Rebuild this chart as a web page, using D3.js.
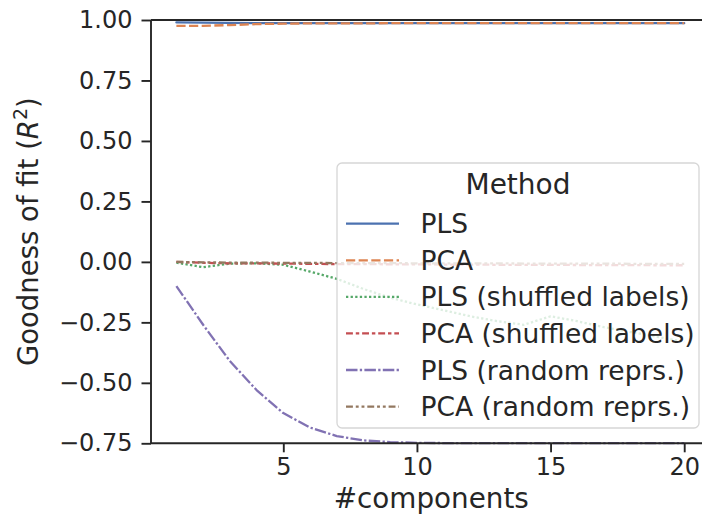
<!DOCTYPE html>
<html>
<head>
<meta charset="utf-8">
<script src="https://cdn.jsdelivr.net/npm/d3@7"></script>
<style>
  html, body { margin: 0; padding: 0; background: #fff; }
  svg { display: block; }
  text { font-family: "DejaVu Sans", sans-serif; fill: #262626; }
</style>
</head>
<body>
<svg id="chart" width="702" height="516"></svg>
<script>
// ---- data ----
const components = [1,2,3,4,5,6,7,8,9,10,11,12,13,14,15,16,17,18,19,20];
const methods = ["PLS", "PCA", "PLS (shuffled labels)", "PCA (shuffled labels)", "PLS (random reprs.)", "PCA (random reprs.)"];
const plsValues = [0.990,0.989,0.988,0.987,0.987,0.987,0.987,0.987,0.987,0.987,0.987,0.987,0.987,0.987,0.987,0.987,0.987,0.987,0.987,0.987];
const pcaValues = [0.976,0.976,0.979,0.983,0.985,0.986,0.986,0.986,0.987,0.987,0.987,0.987,0.987,0.987,0.987,0.987,0.987,0.987,0.987,0.987];
const plsShuffledValues = [-0.003,-0.022,-0.007,-0.006,-0.012,-0.04,-0.07,-0.112,-0.148,-0.176,-0.2,-0.225,-0.245,-0.26,-0.225,-0.245,-0.27,-0.29,-0.31,-0.33];
const pcaShuffledValues = [0.0,-0.004,-0.006,-0.006,-0.007,-0.008,-0.009,-0.009,-0.01,-0.01,-0.011,-0.011,-0.012,-0.012,-0.012,-0.013,-0.013,-0.013,-0.014,-0.014];
const plsRandomValues = [-0.10,-0.26,-0.41,-0.53,-0.625,-0.685,-0.72,-0.738,-0.745,-0.748,-0.749,-0.749,-0.749,-0.749,-0.749,-0.749,-0.749,-0.749,-0.749,-0.749];
const pcaRandomValues = [0.0,-0.002,-0.003,-0.003,-0.004,-0.004,-0.005,-0.005,-0.005,-0.006,-0.006,-0.006,-0.006,-0.007,-0.007,-0.007,-0.007,-0.008,-0.008,-0.008];
const xTicks = [5, 10, 15, 20];
const yTicks = [1.00, 0.75, 0.50, 0.25, 0.00, -0.25, -0.50, -0.75];

const seriesValues = [plsValues, pcaValues, plsShuffledValues, pcaShuffledValues, plsRandomValues, pcaRandomValues];
const colors = ["#4C72B0", "#DD8452", "#55A868", "#C44E52", "#8172B3", "#937860"];
const lw = 2.3;
const dashUnits = [null, [4,1.5], [1,1], [3,1.25,1.5,1.25], [5,1,1,1], [3,1.25,1.25,1.25,1.25,1.25]];
const dashArr = dashUnits.map(d => d ? d.map(v => (v*lw).toFixed(2)).join(",") : null);

const svg = d3.select("#chart");
svg.append("rect").attr("width", 702).attr("height", 516).attr("fill", "#fff");

const x = d3.scaleLinear().domain([0.05, 20.95]).range([151, 709.6]);
const y = d3.scaleLinear().domain([-0.75, 1.0]).range([443.3, 20]);

const axisColor = "#262626";
const spineW = 1.9;

// lines
const line = d3.line().x(d => x(d[0])).y(d => y(d[1])).curve(d3.curveLinear);
const gLines = svg.append("g");
seriesValues.forEach((vals, i) => {
  gLines.append("path")
    .datum(components.map((c, j) => [c, vals[j]]))
    .attr("d", line)
    .attr("fill", "none")
    .attr("stroke", colors[i])
    .attr("stroke-width", lw)
    .attr("stroke-linejoin", "round")
    .attr("stroke-linecap", dashArr[i] ? "butt" : "round")
    .attr("stroke-dasharray", dashArr[i]);
});

// axes
const xAxis = d3.axisBottom(x).tickValues(xTicks).tickSize(9).tickPadding(6).tickFormat(d3.format("d"));
const yAxis = d3.axisLeft(y).tickValues(yTicks).tickSize(9.5).tickPadding(9).tickFormat(d3.format(".2f"));

const gx = svg.append("g").attr("transform", `translate(0,${y(-0.75)})`).call(xAxis);
const gy = svg.append("g").attr("transform", `translate(${x(0.05)},0)`).call(yAxis);
[gx, gy].forEach(g => {
  g.select(".domain").attr("stroke", axisColor).attr("stroke-width", spineW);
  g.selectAll(".tick line").attr("stroke", axisColor).attr("stroke-width", spineW);
  g.selectAll(".tick text").attr("fill", axisColor).style("font-size", "24px").style("font-family", "DejaVu Sans");
});
gx.select(".domain").attr("d", `M${x(0.05)},0H${x(20.95)}`);
gy.select(".domain").attr("d", `M0,${y(-0.75)}V${y(1.0)}`);
// top spine
svg.append("line")
  .attr("x1", x(0.05)).attr("x2", x(20.95))
  .attr("y1", y(1.0)).attr("y2", y(1.0))
  .attr("stroke", axisColor).attr("stroke-width", spineW);

// axis labels
svg.append("text")
  .attr("x", (x(0.05) + x(20.95)) / 2 + 1)
  .attr("y", 508)
  .attr("text-anchor", "middle")
  .style("font-size", "27.8px")
  .text("#components");

const yl = svg.append("text")
  .attr("transform", `translate(38,${(y(1) + y(-0.75)) / 2}) rotate(-90)`)
  .attr("text-anchor", "middle")
  .style("font-size", "27.5px");
yl.append("tspan").text("Goodness of fit (");
yl.append("tspan").style("font-style", "italic").text("R");
yl.append("tspan").attr("dy", -11).style("font-size", "19px").text("2");
yl.append("tspan").attr("dy", 11).text(")");

// legend
const legX = 337, legY = 163, legW = 362, legH = 265;
const gl = svg.append("g");
gl.append("rect")
  .attr("x", legX).attr("y", legY).attr("width", legW).attr("height", legH)
  .attr("rx", 5).attr("ry", 5)
  .attr("fill", "#fff").attr("fill-opacity", 0.8)
  .attr("stroke", "#cccccc").attr("stroke-opacity", 0.8).attr("stroke-width", 1.3);
gl.append("text")
  .attr("x", legX + legW / 2).attr("y", 193.5)
  .attr("text-anchor", "middle")
  .style("font-size", "28px")
  .text("Method");
const rowY = d3.scaleLinear().domain([0, 5]).range([223.7, 406.6]);
methods.forEach((m, i) => {
  const yy = rowY(i);
  gl.append("line")
    .attr("x1", 346).attr("x2", 399).attr("y1", yy).attr("y2", yy)
    .attr("stroke", colors[i]).attr("stroke-width", lw)
    .attr("stroke-linecap", "butt")
    .attr("stroke-dasharray", dashArr[i]);
  gl.append("text")
    .attr("x", 420.5).attr("y", yy + 9.5)
    .style("font-size", "26.5px")
    .text(m);
});
</script>
</body>
</html>
